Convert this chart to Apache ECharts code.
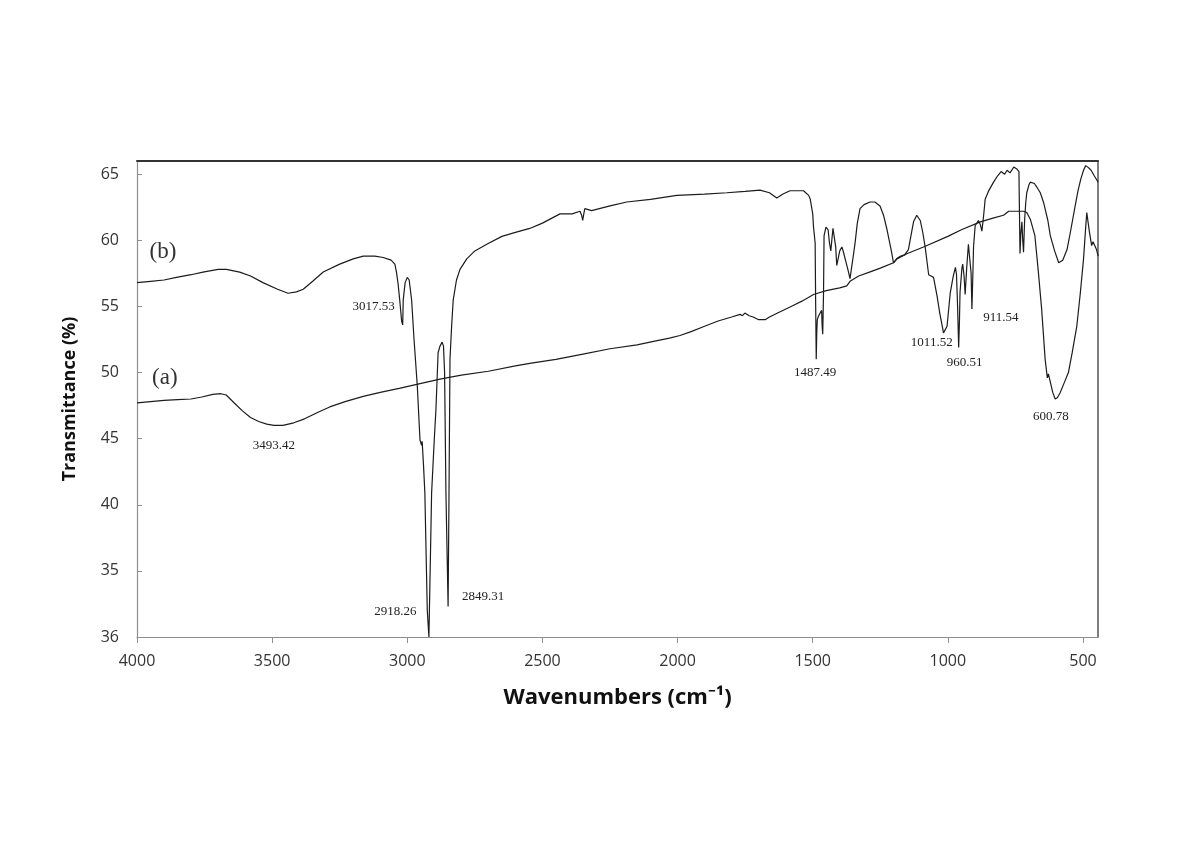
<!DOCTYPE html>
<html>
<head>
<meta charset="utf-8">
<script src="https://cdn.jsdelivr.net/npm/echarts@6/dist/echarts.min.js"></script>
<style>
html,body{margin:0;padding:0;background:#fff;}
#chart{width:1200px;height:848px;}
</style>
</head>
<body>
<div id="chart"></div>
<script>
// ---- Data ----
const xTickValues = [4000, 3500, 3000, 2500, 2000, 1500, 1000, 500];
const yTickValues = [30, 35, 40, 45, 50, 55, 60, 65];
const yTickLabels = ['36', '35', '40', '45', '50', '55', '60', '65'];

// Spectrum (b)
const bWn = [4000,3950,3900,3854,3800,3756,3700,3669,3620,3580,3534,3480,3441,3410,3385,3350,3311,3250,3200,3163,3120,3089,3060,3046,3040,3034,3028,3021,3017,3015,3008,3000,2993,2984,2975,2963,2953,2947,2945,2940,2935,2926,2920,2916,2910,2900,2894,2886,2879,2876,2871,2866,2862,2857,2849,2846,2842,2836,2830,2818,2805,2780,2750,2706,2650,2600,2547,2500,2435,2390,2361,2355,2351,2347,2343,2318,2250,2188,2100,2003,1900,1818,1750,1695,1660,1633,1610,1584,1534,1515,1509,1500,1497,1491,1489,1487,1485,1483,1478,1473,1467,1465,1463,1460,1458,1451,1443,1438,1433,1428,1425,1420,1415,1411,1406,1400,1392,1386,1380,1370,1362,1350,1343,1335,1325,1310,1288,1270,1251,1238,1225,1210,1201,1190,1176,1160,1146,1137,1127,1115,1102,1092,1084,1071,1062,1053,1040,1030,1016,1010,1003,991,980,972,968,964,960,957,955,948,945,940,936,930,924,917,914,911,908,905,899,887,880,874,868,862,850,831,815,803,790,781,770,756,745,737,735,733,730,726,723,720,716,712,708,700,695,680,670,658,645,630,621,605,590,575,559,545,530,518,508,498,490,480,470,459,450,444];
const bT = [56.8,56.9,57.0,57.2,57.4,57.6,57.8,57.8,57.6,57.3,56.8,56.3,56.0,56.1,56.3,56.9,57.6,58.2,58.6,58.8,58.8,58.7,58.5,58.2,57.6,56.7,55.5,53.9,53.6,55.5,56.8,57.2,57.0,55.5,52.5,49.0,44.9,44.5,44.8,43.0,40.9,32.0,30.0,30.0,40.9,45.0,47.2,51.5,52.0,52.1,52.3,52.0,50.0,40.9,32.3,40.0,51.0,53.5,55.5,57.0,57.8,58.6,59.2,59.7,60.3,60.6,60.9,61.3,62.0,62.0,62.2,61.9,61.5,62.0,62.4,62.25,62.6,62.9,63.1,63.4,63.5,63.6,63.7,63.8,63.6,63.2,63.5,63.75,63.75,63.4,63.1,62.0,61.0,59.8,55.0,51.0,53.0,54.0,54.3,54.3,54.7,53.5,52.9,56.0,60.35,61.0,60.8,59.8,59.2,60.3,60.9,60.8,59.5,58.1,58.6,59.2,59.5,59.1,58.6,57.8,57.1,58.8,59.85,61.3,62.4,62.7,62.9,62.9,62.6,61.9,60.8,59.3,58.3,58.6,58.8,58.9,59.3,60.3,61.4,61.9,61.5,60.5,59.5,57.4,57.3,57.2,55.8,54.5,53.0,52.9,53.5,56.05,57.3,57.95,57.4,55.0,51.9,54.0,56.05,57.9,58.2,57.3,55.9,58.0,59.7,59.7,57.5,54.8,57.0,59.5,61.1,61.5,61.2,60.7,61.8,63.1,63.7,64.4,64.9,65.2,65.0,65.3,65.1,65.55,65.4,65.2,62.0,59.0,60.5,61.4,60.0,59.1,61.5,62.8,63.6,64.2,64.4,64.3,64.0,63.6,62.8,61.5,60.35,59.2,58.3,58.5,59.3,60.8,62.5,63.8,64.65,65.3,65.65,65.5,65.3,64.9,64.6,64.4];

// Spectrum (a)
const aWn = [4000,3950,3900,3850,3800,3760,3720,3690,3670,3640,3610,3580,3550,3520,3493,3460,3420,3380,3330,3287,3230,3163,3100,3030,2965,2879,2800,2700,2600,2547,2450,2350,2250,2150,2080,2030,1991,1950,1900,1850,1800,1769,1760,1751,1735,1720,1700,1676,1660,1630,1580,1540,1497,1450,1400,1374,1362,1330,1290,1250,1201,1188,1150,1090,1000,950,880,830,794,775,745,720,708,695,678,666,653,640,632,628,621,612,603,595,585,570,554,540,523,510,498,490,486,480,476,468,463,458,450,444];
const aT = [47.7,47.8,47.9,47.95,48.0,48.15,48.35,48.4,48.3,47.7,47.1,46.6,46.3,46.1,46.0,46.0,46.2,46.5,47.0,47.4,47.8,48.2,48.5,48.8,49.1,49.5,49.8,50.1,50.5,50.7,51.0,51.4,51.8,52.1,52.4,52.6,52.8,53.1,53.5,53.9,54.2,54.4,54.3,54.5,54.3,54.2,54.0,54.0,54.2,54.5,55.0,55.4,55.9,56.2,56.4,56.55,56.9,57.3,57.6,57.9,58.3,58.6,59.0,59.5,60.3,60.8,61.4,61.7,61.9,62.2,62.2,62.2,62.1,61.6,60.35,57.8,54.8,51.0,49.6,49.9,49.3,48.5,48.0,48.1,48.45,49.2,50.0,51.5,53.5,56.0,58.6,61.0,62.1,61.2,60.6,59.6,59.9,59.85,59.3,58.8];

// Peak annotations
const bPeakWn = [3017.53, 2918.26, 2849.31, 1487.49, 1011.52, 960.51, 911.54];
const bPeakT  = [53.6, 30.0, 32.3, 51.0, 53.0, 51.9, 54.8];
const bPeakText = ['3017.53', '2918.26', '2849.31', '1487.49', '1011.52', '960.51', '911.54'];
const aPeakWn = [3493.42, 600.78];
const aPeakT  = [46.0, 48.0];
const aPeakText = ['3493.42', '600.78'];

// ---- Styling / layout ----
const bLabelOffsets = [[-29,-18],[-34,-25],[35,-10],[-1,13],[-13,10],[6,15],[29,8]];
const aLabelOffsets = [[0,20],[-5,18]];
const sansFont = '"Open Sans", "Noto Sans", sans-serif';
const serifFont = '"Liberation Serif", "DejaVu Serif", serif';
const lineColor = '#1c1c1c';

function peakPoints(wn, t, text, offs) {
  return wn.map((w, i) => ({
    coord: [w, t[i]],
    value: text[i],
    symbolSize: 0,
    label: { show: true, position: 'inside', offset: offs[i], formatter: text[i],
             fontFamily: serifFont, fontSize: 13, color: '#222' }
  }));
}

const chart = echarts.init(document.getElementById('chart'), null, {renderer: 'canvas'});
const option = {
  animation: false,
  backgroundColor: '#ffffff',
  grid: { left: 137, right: 102, top: 161, bottom: 211 },
  xAxis: [{
    type: 'value', inverse: true, min: 444.5, max: 4000, interval: 500, position: 'bottom',
    name: 'Wavenumbers (cm\u207B\u00B9)', nameLocation: 'middle', nameGap: 50,
    nameTextStyle: { fontFamily: sansFont, fontWeight: 'bold', fontSize: 22, color: '#111' },
    axisLine: { show: true, lineStyle: { color: '#8f8f8f', width: 1.2 } },
    axisTick: { show: true, inside: false, length: 6, customValues: xTickValues, lineStyle: { color: '#8f8f8f' } },
    axisLabel: { customValues: xTickValues, showMinLabel: true, showMaxLabel: true, hideOverlap: false,
      margin: 16, fontFamily: sansFont, fontSize: 16, color: '#333',
      formatter: v => String(Math.round(v)) },
    splitLine: { show: false }
  }, {
    type: 'value', inverse: true, min: 444.5, max: 4000, position: 'top',
    axisLine: { show: true, lineStyle: { color: '#333', width: 2 } },
    axisTick: { show: false }, axisLabel: { show: false }, splitLine: { show: false }
  }],
  yAxis: [{
    type: 'value', min: 30, max: 66, interval: 5, position: 'left',
    name: 'Transmittance (%)', nameLocation: 'middle', nameGap: 58,
    nameTextStyle: { fontFamily: sansFont, fontWeight: 'bold', fontSize: 18, color: '#111' },
    axisLine: { show: true, lineStyle: { color: '#8f8f8f', width: 1.2 } },
    axisTick: { show: true, inside: true, length: 5, customValues: yTickValues, lineStyle: { color: '#8f8f8f' } },
    axisLabel: { customValues: yTickValues, showMinLabel: true, showMaxLabel: true, margin: 18,
      fontFamily: sansFont, fontSize: 16, color: '#333',
      formatter: v => { const i = yTickValues.indexOf(v); return i >= 0 ? yTickLabels[i] : ''; } },
    splitLine: { show: false }
  }, {
    type: 'value', min: 30, max: 66, position: 'right',
    axisLine: { show: true, lineStyle: { color: '#555', width: 1.5 } },
    axisTick: { show: false }, axisLabel: { show: false }, splitLine: { show: false }
  }],
  series: [{
    name: '(b)', type: 'line', xAxisIndex: 0, yAxisIndex: 0,
    data: bWn.map((w, i) => [w, bT[i]]),
    showSymbol: false, symbol: 'none', clip: true,
    lineStyle: { color: lineColor, width: 1.2 },
    markPoint: { symbol: 'circle', symbolSize: 0, silent: true,
      data: peakPoints(bPeakWn, bPeakT, bPeakText, bLabelOffsets).concat([{
        coord: [3904, 59.1], value: '(b)', symbolSize: 0,
        label: { show: true, position: 'inside', formatter: '(b)', fontFamily: serifFont, fontSize: 23, color: '#333' }
      }]) }
  }, {
    name: '(a)', type: 'line', xAxisIndex: 0, yAxisIndex: 0,
    data: aWn.map((w, i) => [w, aT[i]]),
    showSymbol: false, symbol: 'none', clip: true,
    lineStyle: { color: lineColor, width: 1.2 },
    markPoint: { symbol: 'circle', symbolSize: 0, silent: true,
      data: peakPoints(aPeakWn, aPeakT, aPeakText, aLabelOffsets).concat([{
        coord: [3897, 49.6], value: '(a)', symbolSize: 0,
        label: { show: true, position: 'inside', formatter: '(a)', fontFamily: serifFont, fontSize: 23, color: '#333' }
      }]) }
  }]
};
chart.setOption(option);
</script>
</body>
</html>
